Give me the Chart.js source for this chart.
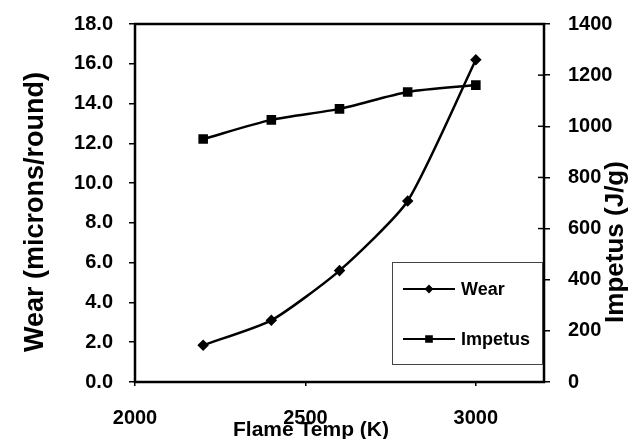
<!DOCTYPE html>
<html>
<head>
<meta charset="utf-8">
<script src="https://cdn.jsdelivr.net/npm/chart.js@4/dist/chart.umd.min.js"></script>
<style>
  html, body { margin: 0; padding: 0; background: #fff; }
  #wrap { width: 632px; height: 439px; }
</style>
</head>
<body>
<div id="wrap"><canvas id="chart" width="632" height="439"></canvas></div>
<script>
// Data
const flameTemps = [2200, 2400, 2600, 2800, 3000];
const wearValues = [1.85, 3.1, 5.6, 9.1, 16.2];
const impetusValues = [950, 1025, 1068, 1134, 1161];
const xTickValues = [2000, 2500, 3000];

const FONT = '"Liberation Sans", Arial, sans-serif';

function pairs(xs, ys) {
    return xs.map((x, i) => ({ x: x, y: ys[i] }));
}

// fixed axis sizes so the plot frame lands where the original one is
function fixSize(w, h) {
    return scale => {
        if (w !== null) scale.width = w;
        if (h !== null) scale.height = h;
        scale.paddingTop = 0;
        scale.paddingBottom = 0;
        scale.paddingLeft = 0;
        scale.paddingRight = 0;
    };
}

// Frame, inner right ticks, titles and legend box
const decorations = {
    id: 'decorations',
    beforeDatasetsDraw(chart) {
        const ctx = chart.ctx;
        const a = chart.chartArea;
        ctx.save();
        ctx.strokeStyle = '#000';
        ctx.lineWidth = 2.5;
        ctx.strokeRect(a.left, a.top, a.right - a.left, a.bottom - a.top);
        // right axis ticks cross into the plot
        const y1 = chart.scales.y1;
        ctx.lineWidth = 1.5;
        y1.ticks.forEach(t => {
            const py = y1.getPixelForValue(t.value);
            ctx.beginPath();
            ctx.moveTo(a.right - 6, py);
            ctx.lineTo(a.right, py);
            ctx.stroke();
        });
        ctx.restore();
    },
    afterDraw(chart) {
        const ctx = chart.ctx;
        ctx.save();
        ctx.fillStyle = '#000';
        ctx.textAlign = 'center';
        ctx.textBaseline = 'middle';

        // x title
        ctx.font = 'bold 21px ' + FONT;
        ctx.fillText('Flame Temp (K)', 311, 430);

        // left title
        ctx.save();
        ctx.translate(36, 212);
        ctx.rotate(-Math.PI / 2);
        ctx.font = 'bold 27px ' + FONT;
        ctx.fillText('Wear (microns/round)', 0, 0);
        ctx.restore();

        // right title
        ctx.save();
        ctx.translate(616, 242);
        ctx.rotate(-Math.PI / 2);
        ctx.font = 'bold 26px ' + FONT;
        ctx.fillText('Impetus (J/g)', 0, 0);
        ctx.restore();

        // legend
        const box = { x: 392, y: 262, w: 150, h: 102 };
        ctx.fillStyle = '#fff';
        ctx.fillRect(box.x, box.y, box.w, box.h);
        ctx.strokeStyle = '#444';
        ctx.lineWidth = 1;
        ctx.strokeRect(box.x + 0.5, box.y + 0.5, box.w, box.h);

        const items = [
            { label: 'Wear', y: 289, ds: chart.data.datasets[0] },
            { label: 'Impetus', y: 339, ds: chart.data.datasets[1] }
        ];
        items.forEach(it => {
            ctx.strokeStyle = '#000';
            ctx.lineWidth = 2;
            ctx.beginPath();
            ctx.moveTo(403, it.y);
            ctx.lineTo(455, it.y);
            ctx.stroke();
            ctx.fillStyle = '#000';
            Chart.helpers.drawPoint(ctx, {
                pointStyle: it.ds.pointStyle,
                radius: it.ds.pointRadius - 1,
                borderWidth: 1
            }, 429, it.y);
            ctx.fill();
            ctx.fillStyle = '#000';
            ctx.textAlign = 'left';
            ctx.font = 'bold 18px ' + FONT;
            ctx.fillText(it.label, 461, it.y + 1);
        });
        ctx.restore();
    }
};

const tickFont = { family: FONT, size: 20, weight: 'bold' };

new Chart(document.getElementById('chart'), {
    type: 'line',
    data: {
        datasets: [
            {
                label: 'Wear',
                data: pairs(flameTemps, wearValues),
                yAxisID: 'y',
                borderColor: '#000',
                backgroundColor: '#000',
                borderWidth: 2.5,
                pointStyle: 'rectRot',
                pointRadius: 4,
                tension: 0.2
            },
            {
                label: 'Impetus',
                data: pairs(flameTemps, impetusValues),
                yAxisID: 'y1',
                borderColor: '#000',
                backgroundColor: '#000',
                borderWidth: 2.5,
                pointStyle: 'rect',
                pointRadius: 5,
                tension: 0.25
            }
        ]
    },
    options: {
        responsive: false,
        animation: false,
        devicePixelRatio: 1,
        layout: { padding: { top: 24, left: 0, right: 0, bottom: 0 } },
        plugins: {
            legend: { display: false },
            tooltip: { enabled: false }
        },
        scales: {
            x: {
                type: 'linear',
                position: 'bottom',
                min: 2000,
                max: 3200,
                afterBuildTicks: scale => {
                    scale.ticks = xTickValues.map(v => ({ value: v }));
                },
                afterFit: fixSize(null, 57),
                ticks: {
                    font: tickFont,
                    color: '#000',
                    padding: 20,
                    maxRotation: 0,
                    callback: v => String(v)
                },
                grid: { drawOnChartArea: false, tickLength: 4, color: '#000', lineWidth: 1.5 },
                border: { display: false }
            },
            y: {
                position: 'left',
                min: 0,
                max: 18,
                afterFit: fixSize(135, null),
                ticks: {
                    stepSize: 2,
                    font: tickFont,
                    color: '#000',
                    padding: 16,
                    callback: v => v.toFixed(1)
                },
                grid: { drawOnChartArea: false, tickLength: 6, color: '#000', lineWidth: 1.5 },
                border: { display: false }
            },
            y1: {
                position: 'right',
                min: 0,
                max: 1400,
                afterFit: fixSize(88, null),
                ticks: {
                    stepSize: 200,
                    font: tickFont,
                    color: '#000',
                    padding: 18,
                    callback: v => String(v)
                },
                grid: { drawOnChartArea: false, tickLength: 6, color: '#000', lineWidth: 1.5 },
                border: { display: false }
            }
        }
    },
    plugins: [decorations]
});
</script>
</body>
</html>
